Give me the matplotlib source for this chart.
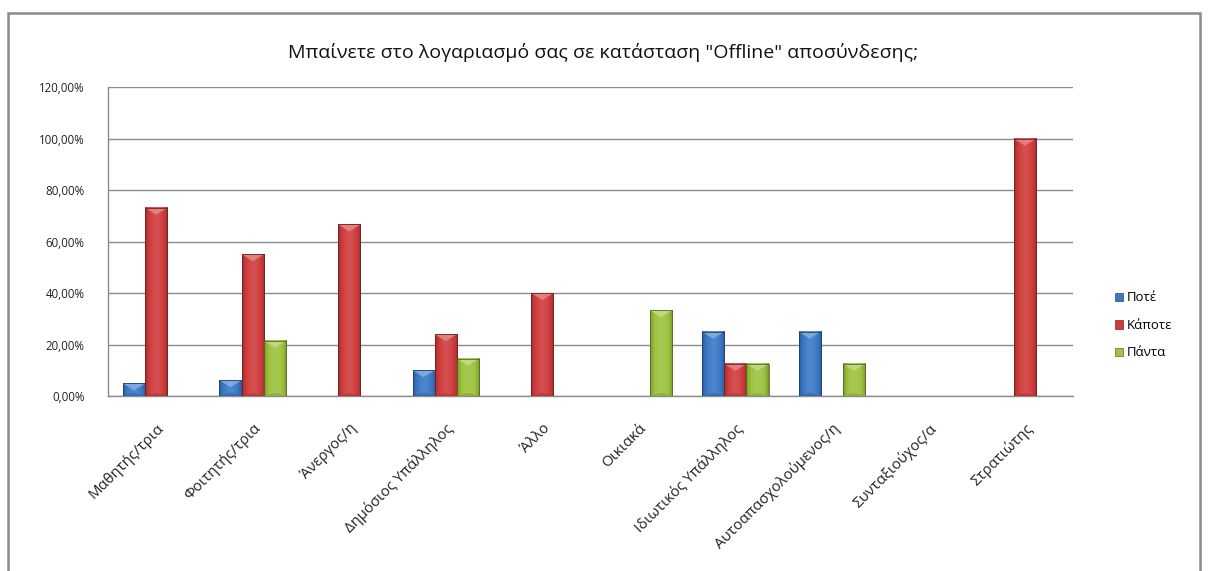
"""
plot.py — grouped bar chart (Excel-style bevelled bars), saved to out.png
"""
import numpy as np
import matplotlib
matplotlib.use("Agg")
import matplotlib.pyplot as plt
from matplotlib.patches import Polygon, Rectangle
from matplotlib.colors import to_rgb

plt.rcParams["font.family"] = ["Open Sans", "DejaVu Sans"]

TITLE = 'Μπαίνετε στο λογαριασμό σας σε κατάσταση "Offline" αποσύνδεσης;'

categories = ["Μαθητής/τρια", "Φοιτητής/τρια", "Άνεργος/η", "Δημόσιος Υπάλληλος",
              "Άλλο", "Οικιακά", "Ιδιωτικός Υπάλληλος", "Αυτοαπασχολούμενος/η",
              "Συνταξιούχος/α", "Στρατιώτης"]
series_names = ["Ποτέ", "Κάποτε", "Πάντα"]
pote   = [0.0488, 0.0612, 0.0, 0.10, 0.0, 0.0,    0.25,  0.25,  0.0, 0.0]
kapote = [0.7317, 0.5510, 0.6667, 0.24, 0.40, 0.0, 0.125, 0.0,   0.0, 1.0]
panta  = [0.0,    0.2143, 0.0, 0.145, 0.0, 0.3333, 0.125, 0.125, 0.0, 0.0]
yticks = [0.0, 0.2, 0.4, 0.6, 0.8, 1.0, 1.2]

COLORS = ["#3a78c6", "#d03c3c", "#9cc23e"]
BAR_W = 0.23


def shade(color, f):
    c = np.array(to_rgb(color))
    if f < 1:
        return tuple(c * f)
    return tuple(c + (1 - c) * (f - 1))


def bevel_bar(ax, x, w, h, color):
    # horizontal gradient: dark edges, lighter middle
    t = np.linspace(0, 1, 40)
    prof = 0.72 + 0.38 * np.sin(np.pi * t) ** 0.6
    grad = np.array([[shade(color, f) for f in prof]])
    ax.imshow(grad, extent=[x, x + w, 0, h], aspect="auto", zorder=3,
              interpolation="bilinear")
    ax.add_patch(Rectangle((x, 0), w, h, fill=False, lw=0.6,
                           ec=shade(color, 0.55), zorder=5))
    d = min(0.027, h * 0.55)
    ax.add_patch(Polygon([(x, h), (x + w, h), (x + w / 2, h - d)], closed=True,
                         fc=shade(color, 1.35), ec="none", zorder=4))
    db = min(0.012, h * 0.3)
    ax.add_patch(Polygon([(x, 0), (x + w, 0), (x + w / 2, db)], closed=True,
                         fc=shade(color, 0.85), ec="none", zorder=4, alpha=0.7))


fig = plt.figure(figsize=(12.08, 5.71), dpi=100)
ax = fig.add_axes([0.0894, 0.3065, 0.7990, 0.5406])

# outer chart border
fig.patches.append(Rectangle((8 / 1208, -0.05), 1192 / 1208, 1.05 - 13 / 571,
                             transform=fig.transFigure, fill=False,
                             ec="#8a8a8a", lw=1.8))

x = np.arange(len(categories))
for i, (vals, col) in enumerate(zip([pote, kapote, panta], COLORS)):
    offs = (i - 1) * BAR_W
    for xi, v in zip(x, vals):
        if v > 0:
            bevel_bar(ax, xi + offs - BAR_W / 2, BAR_W, v, col)

ax.set_xlim(-0.5, len(categories) - 0.5)
ax.set_ylim(0, 1.2)
ax.set_yticks(yticks)
ax.set_yticklabels([f"{v*100:.2f}%".replace(".", ",") for v in yticks],
                   fontsize=8.3, color="#222222")
ax.tick_params(axis="y", length=0, pad=17)
ax.set_xticks(x)
ax.set_xticklabels(categories, rotation=45, ha="right", rotation_mode="anchor",
                   fontsize=10.7, color="#222222")
ax.tick_params(axis="x", length=0, pad=18)
ax.grid(axis="y", color="#8c8c8c", lw=1)
ax.set_axisbelow(True)
for s in ["top", "right"]:
    ax.spines[s].set_visible(False)
for s in ["left", "bottom"]:
    ax.spines[s].set_color("#8c8c8c")
    ax.spines[s].set_linewidth(1)

fig.text(0.499, 0.908, TITLE, ha="center", va="center", fontsize=14, color="#111111")

handles = [Rectangle((0, 0), 1, 1, fc=c, ec=shade(c, 0.6), lw=0.5) for c in COLORS]
fig.legend(handles, series_names, loc="center left", bbox_to_anchor=(0.913, 0.43),
           frameon=False, fontsize=9.5, handlelength=0.6, handleheight=0.6,
           handletextpad=0.3, labelspacing=1.1)

fig.savefig("out.png", dpi=100)
plt.close(fig)
